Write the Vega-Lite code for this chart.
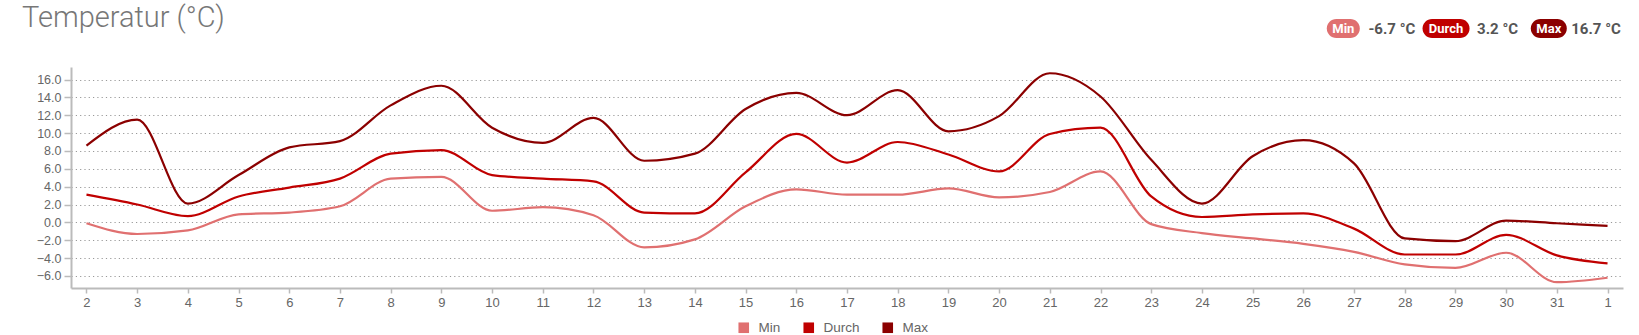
{
  "$schema": "https://vega.github.io/schema/vega-lite/v6.json",
  "padding": {"left": 22, "top": 0, "right": 16, "bottom": 0},
  "background": "white",
  "spacing": 10,
  "datasets": {
    "temps": [
      {"day": "2", "Min": -0.1, "Durch": 3.1, "Max": 8.6},
      {"day": "3", "Min": -1.3, "Durch": 2.0, "Max": 11.5},
      {"day": "4", "Min": -0.9, "Durch": 0.7, "Max": 2.1},
      {"day": "5", "Min": 0.9, "Durch": 2.9, "Max": 5.3},
      {"day": "6", "Min": 1.1, "Durch": 3.9, "Max": 8.4},
      {"day": "7", "Min": 1.8, "Durch": 4.9, "Max": 9.1},
      {"day": "8", "Min": 4.9, "Durch": 7.7, "Max": 13.1},
      {"day": "9", "Min": 5.1, "Durch": 8.1, "Max": 15.3},
      {"day": "10", "Min": 1.3, "Durch": 5.3, "Max": 10.6},
      {"day": "11", "Min": 1.7, "Durch": 4.9, "Max": 8.9},
      {"day": "12", "Min": 0.8, "Durch": 4.6, "Max": 11.7},
      {"day": "13", "Min": -2.8, "Durch": 1.1, "Max": 6.9},
      {"day": "14", "Min": -1.9, "Durch": 1.0, "Max": 7.7},
      {"day": "15", "Min": 1.8, "Durch": 5.6, "Max": 12.7},
      {"day": "16", "Min": 3.7, "Durch": 9.9, "Max": 14.5},
      {"day": "17", "Min": 3.1, "Durch": 6.7, "Max": 12.0},
      {"day": "18", "Min": 3.1, "Durch": 9.0, "Max": 14.8},
      {"day": "19", "Min": 3.8, "Durch": 7.6, "Max": 10.2},
      {"day": "20", "Min": 2.8, "Durch": 5.7, "Max": 11.9},
      {"day": "21", "Min": 3.4, "Durch": 9.9, "Max": 16.7},
      {"day": "22", "Min": 5.7, "Durch": 10.6, "Max": 14.1},
      {"day": "23", "Min": -0.2, "Durch": 2.9, "Max": 7.0},
      {"day": "24", "Min": -1.2, "Durch": 0.6, "Max": 2.1},
      {"day": "25", "Min": -1.8, "Durch": 0.9, "Max": 7.4},
      {"day": "26", "Min": -2.4, "Durch": 1.0, "Max": 9.2},
      {"day": "27", "Min": -3.3, "Durch": -0.7, "Max": 6.6},
      {"day": "28", "Min": -4.7, "Durch": -3.6, "Max": -1.8},
      {"day": "29", "Min": -5.1, "Durch": -3.6, "Max": -2.1},
      {"day": "30", "Min": -3.4, "Durch": -1.4, "Max": 0.2},
      {"day": "31", "Min": -6.7, "Durch": -3.7, "Max": -0.1},
      {"day": "1", "Min": -6.2, "Durch": -4.6, "Max": -0.4}
    ],
    "stats": [
      {"stat": "Min", "value": "-6.7 °C"},
      {"stat": "Durch", "value": "3.2 °C"},
      {"stat": "Max", "value": "16.7 °C"}
    ],
    "heading": [{"t": "Temperatur (°C)"}]
  },
  "vconcat": [
    {
      "width": 1552,
      "height": 57,
      "layer": [
        {
          "data": {"name": "heading"},
          "mark": {"type": "text", "align": "left", "baseline": "alphabetic", "dx": -49, "dy": -1.5, "font": "Roboto", "fontSize": 29, "fontWeight": 300, "color": "#777777"},
          "encoding": {
            "x": {"field": "t", "type": "nominal", "scale": {"type": "point", "padding": 0, "align": 0}, "axis": null},
            "text": {"field": "t"}
          }
        },
        {
          "data": {"name": "stats"},
          "mark": {"type": "point", "filled": true, "size": 400, "opacity": 1, "strokeWidth": 0},
          "encoding": {
            "x": {"field": "stat", "type": "nominal", "sort": null, "scale": {"type": "point", "domain": ["Min", "Durch", "Max"], "range": [1272.3, 1477.8], "padding": 0}, "axis": null},
            "shape": {"field": "stat", "type": "nominal", "scale": {"domain": ["Min", "Durch", "Max"], "range": [
              "M-0.7,-0.95L0.7,-0.95C1.225,-0.95,1.65,-0.525,1.65,0C1.65,0.525,1.225,0.95,0.7,0.95L-0.7,0.95C-1.225,0.95,-1.65,0.525,-1.65,0C-1.65,-0.525,-1.225,-0.95,-0.7,-0.95Z",
              "M-1.4,-0.95L1.4,-0.95C1.925,-0.95,2.35,-0.525,2.35,0C2.35,0.525,1.925,0.95,1.4,0.95L-1.4,0.95C-1.925,0.95,-2.35,0.525,-2.35,0C-2.35,-0.525,-1.925,-0.95,-1.4,-0.95Z",
              "M-0.85,-0.95L0.85,-0.95C1.375,-0.95,1.8,-0.525,1.8,0C1.8,0.525,1.375,0.95,0.85,0.95L-0.85,0.95C-1.375,0.95,-1.8,0.525,-1.8,0C-1.8,-0.525,-1.375,-0.95,-0.85,-0.95Z"
            ]}, "legend": null},
            "fill": {"field": "stat", "type": "nominal", "scale": {"domain": ["Min", "Durch", "Max"], "range": ["#e07070", "#c00000", "#8b0000"]}, "legend": null}
          }
        },
        {
          "data": {"name": "stats"},
          "mark": {"type": "text", "font": "Roboto", "fontSize": 13, "fontWeight": "bold", "color": "white", "align": "center", "baseline": "middle"},
          "encoding": {
            "x": {"field": "stat", "type": "nominal", "sort": null, "scale": {"type": "point", "domain": ["Min", "Durch", "Max"], "range": [1272.3, 1477.8], "padding": 0}, "axis": null},
            "text": {"field": "stat"}
          }
        },
        {
          "data": {"name": "stats"},
          "mark": {"type": "text", "font": "Roboto", "fontSize": 15, "fontWeight": "bold", "color": "#555555", "align": "right", "baseline": "middle", "dx": 72},
          "encoding": {
            "x": {"field": "stat", "type": "nominal", "sort": null, "scale": {"type": "point", "domain": ["Min", "Durch", "Max"], "range": [1272.3, 1477.8], "padding": 0}, "axis": null},
            "text": {"field": "value"}
          }
        }
      ],
      "resolve": {"scale": {"x": "independent"}}
    },
    {
      "width": 1552,
      "height": 221,
      "data": {"name": "temps"},
      "transform": [{"fold": ["Min", "Durch", "Max"], "as": ["series", "value"]}],
      "mark": {"type": "line", "interpolate": "monotone", "strokeWidth": 2.2},
      "encoding": {
        "x": {
          "field": "day", "type": "ordinal", "sort": null,
          "scale": {"type": "point", "padding": 0.305},
          "axis": {"title": null, "labelAngle": 0, "grid": false, "domainColor": "#bbbbbb", "domainWidth": 2, "tickColor": "#bbbbbb", "tickWidth": 1.5, "tickSize": 5, "labelColor": "#666666", "labelFont": "Liberation Sans", "labelFontSize": 13, "labelPadding": 3}
        },
        "y": {
          "field": "value", "type": "quantitative",
          "scale": {"domain": [-7.35, 17.4], "nice": false, "zero": false},
          "axis": {"title": null, "values": [-6, -4, -2, 0, 2, 4, 6, 8, 10, 12, 14, 16], "format": ".1f", "grid": true, "gridColor": "#999999", "gridDash": [1.2, 3.1], "gridWidth": 1, "domainColor": "#bbbbbb", "domainWidth": 2, "tickColor": "#bbbbbb", "tickWidth": 1.5, "tickSize": 7, "labelColor": "#666666", "labelFont": "Liberation Sans", "labelFontSize": 12.5, "labelPadding": 3}
        },
        "color": {
          "field": "series", "type": "nominal",
          "scale": {"domain": ["Min", "Durch", "Max"], "range": ["#e07070", "#c00000", "#8b0000"]},
          "legend": {
            "title": null, "orient": "none", "legendX": 666, "legendY": 254, "direction": "horizontal",
            "symbolType": "square", "symbolSize": 28, "symbolStrokeWidth": 5.3, "symbolOpacity": 1,
            "labelFont": "Liberation Sans", "labelFontSize": 13.5, "labelColor": "#666666", "labelOffset": 8, "columnPadding": 14, "padding": 0
          }
        }
      }
    }
  ],
  "resolve": {"scale": {"color": "independent"}, "legend": {"color": "independent"}},
  "config": {
    "view": {"stroke": null}
  }
}
